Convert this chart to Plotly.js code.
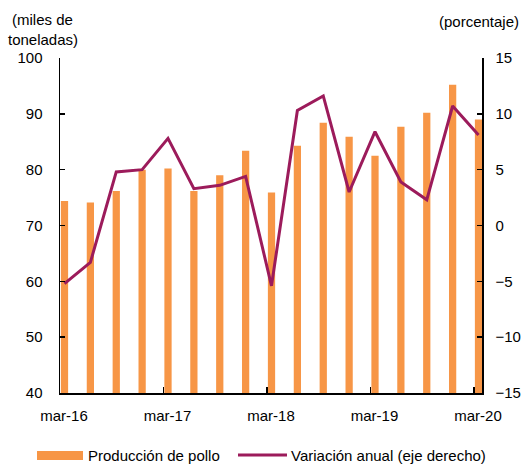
<!DOCTYPE html>
<html>
<head>
<meta charset="utf-8">
<script src="https://cdn.plot.ly/plotly-3.0.1.min.js"></script>
<style>html,body{margin:0;padding:0;background:#fff;}#chart{width:522px;height:466px;}</style>
</head>
<body>
<div id="chart"></div>
<script>
// Quarterly periods
const periods = ["mar-16","jun-16","sep-16","dic-16","mar-17","jun-17","sep-17","dic-17",
                 "mar-18","jun-18","sep-18","dic-18","mar-19","jun-19","sep-19","dic-19","mar-20"];
// Producción de pollo (miles de toneladas)
const produccion = [74.4, 74.1, 76.2, 80.0, 80.2, 76.2, 79.0, 83.4, 75.9, 84.3, 88.4, 85.9, 82.5, 87.7, 90.2, 95.2, 89.0];
// Variación anual (%)
const variacion = [-5.2, -3.3, 4.8, 5.0, 7.8, 3.3, 3.6, 4.4, -5.4, 10.3, 11.6, 3.0, 8.4, 3.9, 2.3, 10.7, 8.1];
// Tick labels
const tickLabels = ["mar-16","mar-17","mar-18","mar-19","mar-20"];

const xIdx = periods.map((_, i) => i);
const tickPos = tickLabels.map(l => periods.indexOf(l) - 0.174);

const FONT = "Liberation Sans, Arial, sans-serif";
const ORANGE = "#F79646";
const PURPLE = "#9C1B5B";

const traces = [
  {type: "bar", x: xIdx, y: produccion, width: 0.28, marker: {color: ORANGE},
   name: "Producción de pollo", showlegend: false, hoverinfo: "y"},
  {type: "scatter", mode: "lines", x: xIdx, y: variacion, yaxis: "y2",
   line: {color: PURPLE, width: 3}, name: "Variación anual (eje derecho)", showlegend: false}
];

const layout = {
  width: 522, height: 466,
  margin: {l: 60, r: 40, t: 58, b: 73, pad: 0},
  paper_bgcolor: "#fff", plot_bgcolor: "#fff",
  font: {family: FONT, size: 15, color: "#000"},
  showlegend: false,
  xaxis: {
    range: [-0.174, 16.135], showgrid: false, zeroline: false,
    showline: true, linecolor: "#000", linewidth: 1.5,
    tickmode: "array", tickvals: tickPos, ticktext: tickLabels,
    ticks: "inside", ticklen: 6, tickwidth: 1.5, tickcolor: "#000",
    ticklabelshift: 4, ticklabelstandoff: 8,
    tickfont: {family: FONT, size: 15, color: "#000"}
  },
  yaxis: {
    range: [40, 100], dtick: 10, showgrid: false, zeroline: false,
    showline: true, linecolor: "#000", linewidth: 1.5,
    ticks: "inside", ticklen: 5, tickwidth: 1.5, tickcolor: "#000",
    ticklabelstandoff: 13,
    tickfont: {family: FONT, size: 15, color: "#000"}
  },
  yaxis2: {
    range: [-15, 15], dtick: 5, overlaying: "y", side: "right",
    showgrid: false, zeroline: false,
    showline: true, linecolor: "#000", linewidth: 1.5,
    ticks: "inside", ticklen: 5, tickwidth: 1.5, tickcolor: "#000",
    ticklabelstandoff: 9,
    tickfont: {family: FONT, size: 15, color: "#000"}
  },
  shapes: [
    {type: "rect", xref: "paper", yref: "paper", x0: -0.0545, x1: 0.0545, y0: -0.200, y1: -0.173,
     fillcolor: ORANGE, line: {width: 0}},
    {type: "line", xref: "paper", yref: "paper", x0: 0.4218, x1: 0.5379, y0: -0.185, y1: -0.185,
     line: {color: PURPLE, width: 3}}
  ],
  annotations: [
    {text: "(miles de", xref: "paper", yref: "paper", x: -0.0403, y: 1.116, xanchor: "center", yanchor: "middle", showarrow: false},
    {text: "toneladas)", xref: "paper", yref: "paper", x: -0.0403, y: 1.054, xanchor: "center", yanchor: "middle", showarrow: false},
    {text: "(porcentaje)", xref: "paper", yref: "paper", x: 1.092, y: 1.110, xanchor: "right", yanchor: "middle", showarrow: false},
    {text: "Producción de pollo", xref: "paper", yref: "paper", x: 0.062, y: -0.188, xanchor: "left", yanchor: "middle", showarrow: false},
    {text: "Variación anual (eje derecho)", xref: "paper", yref: "paper", x: 0.543, y: -0.188, xanchor: "left", yanchor: "middle", showarrow: false}
  ]
};

Plotly.newPlot("chart", traces, layout, {displayModeBar: false, staticPlot: true});
</script>
</body>
</html>
